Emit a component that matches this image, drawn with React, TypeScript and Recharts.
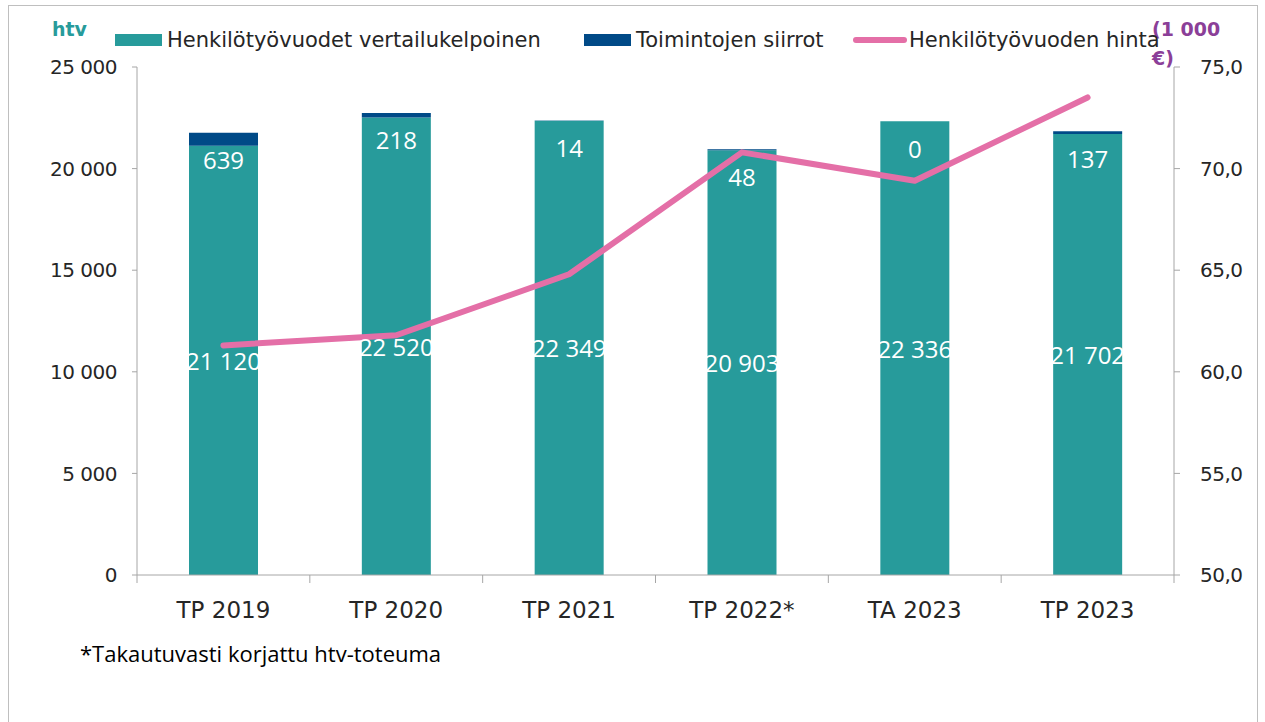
import React from 'react'
import {
  ComposedChart,
  Bar,
  Line,
  XAxis,
  YAxis,
  LabelList
} from 'recharts'

const categories = ['TP 2019', 'TP 2020', 'TP 2021', 'TP 2022*', 'TA 2023', 'TP 2023']
const comparableHtv = [21120, 22520, 22349, 20903, 22336, 21702]
const transfers = [639, 218, 14, 48, 0, 137]
const costPerHtv = [61.3, 61.8, 64.8, 70.8, 69.4, 73.5]

const leftTicks = [0, 5000, 10000, 15000, 20000, 25000]
const rightTicks = [50, 55, 60, 65, 70, 75]

const TEAL = '#279b9b'
const NAVY = '#004a87'
const PINK = '#e46fa7'
const PURPLE = '#8b3f98'
const AXIS = '#a6a6a6'
const TEXT = '#262626'
const GOTHIC = '"DejaVu Sans", sans-serif'
const LABEL_FONT = '"Open Sans", sans-serif'
const X_MARGIN = 20

const data = categories.map((name, i) => ({
  name,
  comparable: comparableHtv[i],
  transfers: transfers[i],
  cost: costPerHtv[i]
}))

const fmtThousands = (v: number) =>
  String(v).replace(/\B(?=(\d{3})+(?!\d))/g, ' ')

const fmtDecimal = (v: number) => v.toFixed(1).replace('.', ',')

// transfers label hangs under the stack top (excel "inside end"), drawn off the teal bar
// so that the zero segment still gets its "0"
const TransferLabel = (props: any) => {
  const { x, y, width, height, value, index } = props
  const base = comparableHtv[index] || 1
  const segPx = (value * height) / base
  return (
    <text
      x={x + width / 2}
      y={y - segPx + 27}
      fill="#fff"
      fontSize={24}
      fontFamily={LABEL_FONT}
      textAnchor="middle"
      dominantBaseline="central"
    >
      {fmtThousands(value)}
    </text>
  )
}

const ComparableLabel = (props: any) => {
  const { x, y, width, height, value } = props
  return (
    <text
      x={x + width / 2}
      y={y + height / 2}
      fill="#fff"
      fontSize={24}
      fontFamily={LABEL_FONT}
      textAnchor="middle"
      dominantBaseline="central"
    >
      {fmtThousands(value)}
    </text>
  )
}

// category label plus excel-style tick marks on the band edges
const CategoryTick = (props: any) => {
  const { x, y, payload, index, visibleTicksCount } = props
  const half = payload.offset || 86.4
  const axisY = y - X_MARGIN
  const last = index === visibleTicksCount - 1
  return (
    <g>
      <line x1={x - half} x2={x - half} y1={axisY} y2={axisY + 8} stroke={AXIS} />
      {last && <line x1={x + half} x2={x + half} y1={axisY} y2={axisY + 8} stroke={AXIS} />}
      <text
        x={x}
        y={axisY + 43}
        fill={TEXT}
        fontSize={23}
        fontFamily={GOTHIC}
        textAnchor="middle"
      >
        {payload.value}
      </text>
    </g>
  )
}

const legendItems = [
  { label: 'Henkilötyövuodet vertailukelpoinen', color: TEAL, left: 106, kind: 'box' },
  { label: 'Toimintojen siirrot', color: NAVY, left: 575, kind: 'box' },
  { label: 'Henkilötyövuoden hinta', color: PINK, left: 844, kind: 'line' }
]

export default function App() {
  return (
    <div
      style={{
        position: 'absolute',
        left: 8,
        top: 5,
        width: 1250,
        height: 740,
        border: '1px solid #bfbfbf',
        boxSizing: 'border-box',
        background: '#fff'
      }}
    >
      <div
        style={{
          position: 'absolute',
          left: 43,
          top: 12,
          color: TEAL,
          fontFamily: GOTHIC,
          fontWeight: 'bold',
          fontSize: 19
        }}
      >
        htv
      </div>
      <div
        style={{
          position: 'absolute',
          left: 1143,
          top: 9,
          color: PURPLE,
          fontFamily: GOTHIC,
          fontWeight: 'bold',
          fontSize: 19,
          lineHeight: '29px'
        }}
      >
        (1 000
        <br />
        €)
      </div>
      {legendItems.map(item => (
        <div
          key={item.label}
          style={{
            position: 'absolute',
            left: item.left,
            top: 22,
            height: 24,
            display: 'flex',
            alignItems: 'center',
            fontFamily: GOTHIC,
            fontSize: 21,
            color: TEXT,
            whiteSpace: 'nowrap'
          }}
        >
          {item.kind === 'box' ? (
            <span style={{ width: 47, height: 12, background: item.color, marginRight: 5 }} />
          ) : (
            <span
              style={{
                width: 54,
                height: 6,
                borderRadius: 3,
                background: item.color,
                marginRight: 2
              }}
            />
          )}
          {item.label}
        </div>
      ))}
      <div
        style={{
          position: 'absolute',
          left: 71,
          top: 632,
          fontFamily: LABEL_FONT,
          fontSize: 22,
          color: '#000'
        }}
      >
        *Takautuvasti korjattu htv-toteuma
      </div>
      <div style={{ position: 'absolute', left: 0, top: 0 }}>
        <ComposedChart
          width={1240}
          height={640}
          data={data}
          margin={{ top: 61, right: 0, bottom: 21, left: 0 }}
          barSize={69}
        >
          <XAxis
            dataKey="name"
            height={50}
            axisLine={{ stroke: AXIS }}
            tickLine={false}
            tickSize={0}
            tickMargin={X_MARGIN}
            tick={<CategoryTick />}
            interval={0}
          />
          <YAxis
            yAxisId="left"
            width={128}
            domain={[0, 25000]}
            ticks={leftTicks}
            tickFormatter={fmtThousands}
            tickSize={5}
            tickMargin={15}
            axisLine={{ stroke: AXIS }}
            tickLine={{ stroke: AXIS }}
            tick={{ fill: TEXT, fontSize: 20, fontFamily: GOTHIC, letterSpacing: -0.5 }}
          />
          <YAxis
            yAxisId="right"
            orientation="right"
            width={75}
            domain={[50, 75]}
            ticks={rightTicks}
            tickFormatter={fmtDecimal}
            tickSize={6}
            tickMargin={20}
            axisLine={{ stroke: AXIS }}
            tickLine={{ stroke: AXIS }}
            tick={{ fill: TEXT, fontSize: 20, fontFamily: GOTHIC, letterSpacing: -0.5 }}
          />
          <Bar
            yAxisId="left"
            dataKey="comparable"
            stackId="htv"
            fill={TEAL}
            isAnimationActive={false}
          >
            <LabelList dataKey="comparable" content={ComparableLabel} />
            <LabelList dataKey="transfers" content={TransferLabel} />
          </Bar>
          <Bar
            yAxisId="left"
            dataKey="transfers"
            stackId="htv"
            fill={NAVY}
            isAnimationActive={false}
          />
          <Line
            yAxisId="right"
            dataKey="cost"
            stroke={PINK}
            strokeWidth={6}
            strokeLinecap="round"
            strokeLinejoin="round"
            dot={false}
            activeDot={false}
            isAnimationActive={false}
          />
        </ComposedChart>
      </div>
    </div>
  )
}
